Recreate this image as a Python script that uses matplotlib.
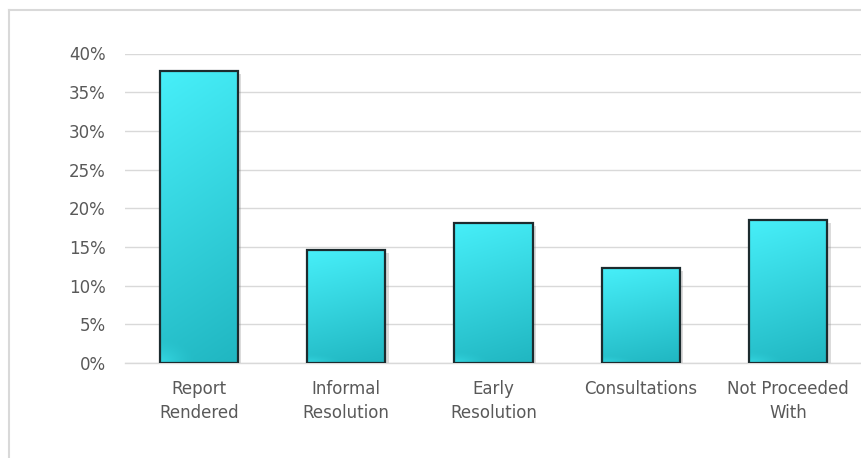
import matplotlib
matplotlib.use("Agg")
import matplotlib.pyplot as plt
import matplotlib.patheffects as pe
from matplotlib.lines import Line2D
from matplotlib.ticker import FuncFormatter, MultipleLocator
import numpy as np

categories = ["Report\nRendered", "Informal\nResolution", "Early\nResolution", "Consultations", "Not Proceeded\nWith"]
values = [0.377, 0.146, 0.181, 0.1225, 0.1845]

plt.rcParams['font.family'] = ['DejaVu Sans']

W, H = 861, 458
fig = plt.figure(figsize=(W / 100, H / 100), dpi=100)
ax = fig.add_axes([125 / W, 1 - 363 / H, 737 / W, (363 - 53.5) / H])

x = np.arange(len(categories))
bw = 0.53

# shadow / base bars
base = ax.bar(x, values, width=bw, color="white", edgecolor="none", zorder=2)
for b in base:
    b.set_path_effects([pe.SimplePatchShadow(offset=(2.5, -2), shadow_rgbFace="#888888", alpha=0.3), pe.Normal()])

# gradient fill
top = np.array([0x47, 0xEF, 0xF9]) / 255
bot = np.array([0x20, 0xB6, 0xC1]) / 255
light = np.array([0x40, 0xE8, 0xF2]) / 255
ny, nx = 200, 60
yy, xx = np.mgrid[0:1:ny * 1j, 0:1:nx * 1j]  # yy 0 at top
t = np.clip(yy * 0.85 + xx * 0.15, 0, 1)
img = top[None, None, :] * (1 - t[..., None]) + bot[None, None, :] * t[..., None]
corner = np.clip(1 - np.hypot(xx / 0.45, (1 - yy) / 0.08), 0, 1) ** 1.5
img = img * (1 - 0.6 * corner[..., None]) + light[None, None, :] * 0.6 * corner[..., None]

for xi, v, b in zip(x, values, base):
    im = ax.imshow(img, extent=(xi - bw / 2, xi + bw / 2, 0, v), aspect="auto",
                   interpolation="bilinear", zorder=3)
    im.set_clip_path(b)

ax.bar(x, values, width=bw, facecolor="none", edgecolor="#1c2b2e", linewidth=1.6, zorder=4)

ax.set_xlim(-0.5, len(categories) - 0.5)
ax.set_ylim(0, 0.40)
ax.yaxis.set_major_locator(MultipleLocator(0.05))
ax.yaxis.set_major_formatter(FuncFormatter(lambda v, p: f"{v * 100:.0f}%"))
ax.set_xticks(x)
ax.set_xticklabels(categories, linespacing=1.45)
ax.grid(axis="y", color="#d9d9d9", linewidth=1.0, zorder=0)
ax.set_axisbelow(True)
for s in ["top", "right", "left"]:
    ax.spines[s].set_visible(False)
ax.spines["bottom"].set_color("#d9d9d9")
ax.spines["bottom"].set_linewidth(1.0)
ax.tick_params(axis="both", length=0, labelsize=12, colors="#595959")
ax.tick_params(axis="y", pad=14)
ax.tick_params(axis="x", pad=12)

# chart frame (left and top borders visible)
fig.add_artist(Line2D([8.5 / W, 8.5 / W], [0, 1 - 10 / H], color="#d9d9d9", linewidth=1.5))
fig.add_artist(Line2D([8.5 / W, 1], [1 - 10 / H, 1 - 10 / H], color="#d9d9d9", linewidth=1.5))

fig.savefig("out.png", dpi=100)
